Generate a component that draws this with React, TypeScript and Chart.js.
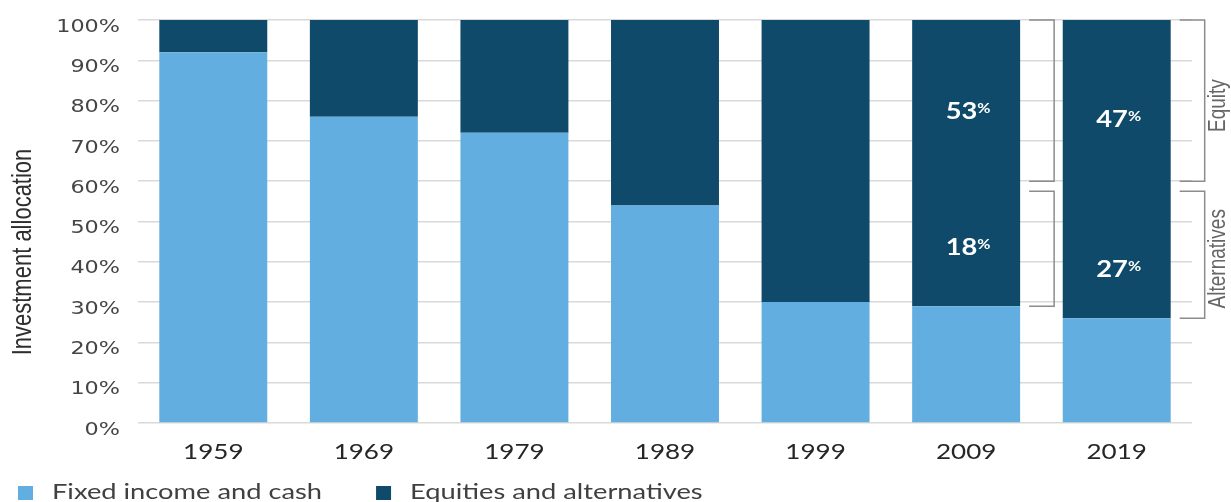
import React, { useEffect, useRef } from "react";
import { Chart, registerables } from "chart.js";

Chart.register(...registerables);

// Decades shown on the x axis
const years = ["1959", "1969", "1979", "1989", "1999", "2009", "2019"];
// Share of the portfolio held in fixed income and cash (%)
const fixedIncomeAndCash = [92, 76, 72, 54, 30, 29, 26];
// Share held in equities and alternatives (%)
const equitiesAndAlternatives = [8, 24, 28, 46, 70, 71, 74];
// Breakdown of the dark segment for the most recent decades (%)
const splitYears = ["2009", "2019"];
const equityShare = [53, 47];
const alternativesShare = [18, 27];
// Y axis ticks (%)
const yTicks = [0, 10, 20, 30, 40, 50, 60, 70, 80, 90, 100];

const seriesNames = ["Fixed income and cash", "Equities and alternatives"];
const LIGHT = "#63aee0";
const DARK = "#0f4a6b";

// Where the in-bar share labels sit, in axis units
const EQUITY_LABEL_AT = [77.5, 75.5];
const ALT_LABEL_AT = [43.6, 38.1];
// Bracket extents, in axis units
const EQUITY_BRACKET = [100, 60];
const ALT_BRACKET_TOP = 57.5;

// Horizontal text stretch used across the chart's typography
const SX = 1.24;

type Align = "left" | "center" | "right";

function drawText(
  ctx: CanvasRenderingContext2D,
  text: string,
  x: number,
  y: number,
  font: string,
  color: string,
  align: Align,
  baseline: CanvasTextBaseline = "middle"
) {
  ctx.save();
  ctx.font = font;
  ctx.fillStyle = color;
  ctx.textAlign = "left";
  ctx.textBaseline = baseline;
  const w = ctx.measureText(text).width * SX;
  const left = align === "left" ? x : align === "center" ? x - w / 2 : x - w;
  ctx.translate(left, y);
  ctx.scale(SX, 1);
  ctx.fillText(text, 0, 0);
  ctx.restore();
  return w;
}

function textWidth(ctx: CanvasRenderingContext2D, text: string, font: string) {
  ctx.save();
  ctx.font = font;
  const w = ctx.measureText(text).width * SX;
  ctx.restore();
  return w;
}

function drawVertical(
  ctx: CanvasRenderingContext2D,
  text: string,
  cx: number,
  cy: number,
  font: string,
  color: string
) {
  ctx.save();
  ctx.translate(cx, cy);
  ctx.rotate(-Math.PI / 2);
  ctx.scale(1, SX);
  ctx.font = font;
  ctx.fillStyle = color;
  ctx.textAlign = "center";
  ctx.textBaseline = "middle";
  ctx.fillText(text, 0, 0);
  ctx.restore();
}

function drawBracket(
  ctx: CanvasRenderingContext2D,
  x0: number,
  x1: number,
  top: number,
  bottom: number
) {
  ctx.save();
  ctx.strokeStyle = "#8c8c8c";
  ctx.lineWidth = 1.5;
  ctx.beginPath();
  ctx.moveTo(x0, top);
  ctx.lineTo(x1, top);
  ctx.lineTo(x1, bottom);
  ctx.lineTo(x0, bottom);
  ctx.stroke();
  ctx.restore();
}

function drawShare(
  ctx: CanvasRenderingContext2D,
  value: number,
  cx: number,
  cy: number
) {
  const numFont = "bold 22px Lato";
  const pctFont = "bold 13px Lato";
  const num = String(value);
  const nw = textWidth(ctx, num, numFont);
  const pw = textWidth(ctx, "%", pctFont);
  const gap = 0;
  const left = cx + 2 - (nw + gap + pw) / 2;
  const baseline = cy + 8;
  drawText(ctx, num, left, baseline, numFont, "#ffffff", "left", "alphabetic");
  drawText(ctx, "%", left + nw + gap, baseline - 6, pctFont, "#ffffff", "left", "alphabetic");
}

const annotations = {
  id: "allocationAnnotations",
  afterDraw(chart: any) {
    const ctx: CanvasRenderingContext2D = chart.ctx;
    const { x, y } = chart.scales;
    const area = chart.chartArea;

    // y tick labels
    yTicks.forEach((v) => {
      drawText(ctx, `${v}%`, 120, y.getPixelForValue(v) + 7, '18px "DejaVu Sans"', "#454545", "right");
    });

    // x tick labels
    years.forEach((yr, i) => {
      drawText(ctx, yr, x.getPixelForValue(i), area.bottom + 29, "21px Lato", "#262626", "center");
    });

    // y axis title
    drawVertical(ctx, "Investment allocation", 23, 252, '22px "Liberation Sans"', "#2e2e2e");

    // share labels and brackets for the split decades
    const darkMeta = chart.getDatasetMeta(1);
    splitYears.forEach((yr, k) => {
      const idx = years.indexOf(yr);
      const bar: any = darkMeta.data[idx];
      const cx = bar.x;
      drawShare(ctx, equityShare[k], cx, y.getPixelForValue(EQUITY_LABEL_AT[k]));
      drawShare(ctx, alternativesShare[k], cx, y.getPixelForValue(ALT_LABEL_AT[k]));

      const right = bar.x + bar.width / 2;
      const x0 = right + 9;
      const x1 = right + 34;
      const eqTop = y.getPixelForValue(EQUITY_BRACKET[0]);
      const eqBottom = y.getPixelForValue(EQUITY_BRACKET[1]);
      const altTop = y.getPixelForValue(ALT_BRACKET_TOP);
      const altBottom = y.getPixelForValue(fixedIncomeAndCash[idx]);
      drawBracket(ctx, x0, x1, eqTop, eqBottom);
      drawBracket(ctx, x0, x1, altTop, altBottom);

      if (k === splitYears.length - 1) {
        drawVertical(ctx, "Equity", x1 + 14, (eqTop + eqBottom) / 2 + 5, '19px "Liberation Sans"', "#666666");
        drawVertical(ctx, "Alternatives", x1 + 14, (altTop + altBottom) / 2 + 4, '19px "Liberation Sans"', "#666666");
      }
    });

    // legend
    const colors = [LIGHT, DARK];
    const legendFont = "22px Lato";
    let lx = 18;
    const ly = 492;
    seriesNames.forEach((name, i) => {
      ctx.save();
      ctx.fillStyle = colors[i];
      ctx.fillRect(lx, ly - 6, 15, 14);
      ctx.restore();
      const w = drawText(ctx, name, lx + 34, ly, legendFont, "#404040", "left");
      lx = lx + 34 + w + 54;
    });
  },
};

export default function App() {
  const canvasRef = useRef<HTMLCanvasElement | null>(null);

  useEffect(() => {
    if (!canvasRef.current) return;
    const chart = new Chart(canvasRef.current, {
      type: "bar",
      data: {
        labels: years,
        datasets: [
          {
            label: seriesNames[0],
            data: fixedIncomeAndCash,
            backgroundColor: LIGHT,
            borderWidth: 0,
            barPercentage: 0.717,
            categoryPercentage: 1,
          },
          {
            label: seriesNames[1],
            data: equitiesAndAlternatives,
            backgroundColor: DARK,
            borderWidth: 0,
            barPercentage: 0.717,
            categoryPercentage: 1,
          },
        ],
      },
      options: {
        animation: false,
        responsive: true,
        maintainAspectRatio: false,
        layout: { padding: { left: 8, right: 39, top: 20, bottom: 40 } },
        plugins: {
          legend: { display: false },
          tooltip: { enabled: false },
        },
        scales: {
          x: {
            stacked: true,
            grid: { display: false },
            border: { display: false },
            ticks: { display: false },
            afterFit: (s: any) => {
              s.height = 39;
            },
          },
          y: {
            stacked: true,
            min: 0,
            max: 100,
            ticks: { display: false, stepSize: 10 },
            grid: { color: "#d9d9d9", lineWidth: 1.5, drawTicks: false },
            border: { display: false },
            afterFit: (s: any) => {
              s.width = 130;
            },
          },
        },
      },
      plugins: [annotations],
    });
    return () => chart.destroy();
  }, []);

  return (
    <div
      style={{
        position: "absolute",
        left: 0,
        top: 0,
        width: 1231,
        height: 502,
        background: "#ffffff",
        overflow: "hidden",
      }}
    >
      <canvas ref={canvasRef} />
    </div>
  );
}
